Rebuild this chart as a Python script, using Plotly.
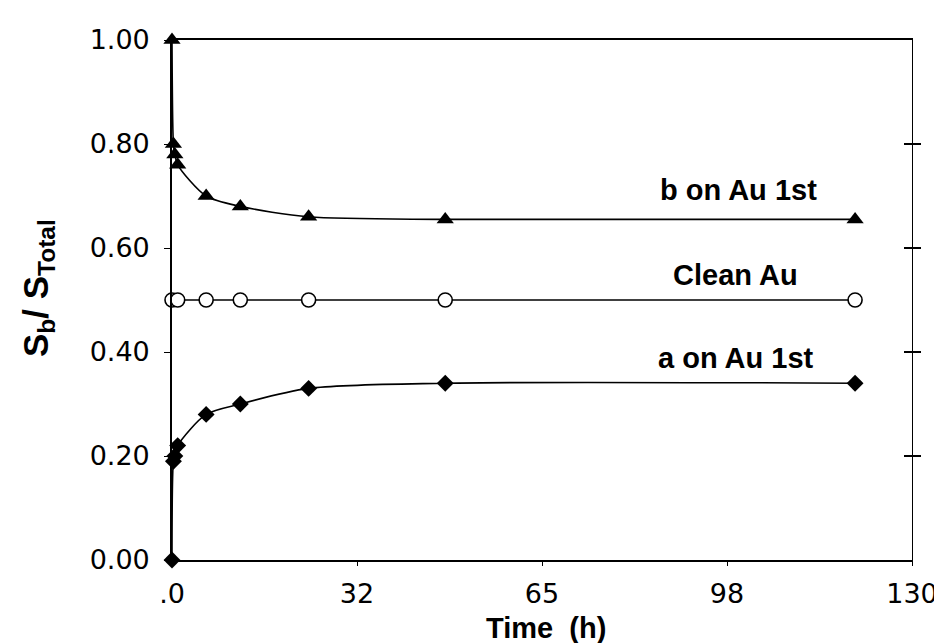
import plotly.graph_objects as go

# ---- data ----
time_b = [0, 0.25, 0.5, 1, 6, 12, 24, 48, 120]
b_on_au = [1.00, 0.80, 0.78, 0.76, 0.70, 0.68, 0.66, 0.655, 0.655]

time_clean = [0, 1, 6, 12, 24, 48, 120]
clean_au = [0.50, 0.50, 0.50, 0.50, 0.50, 0.50, 0.50]

time_a = [0, 0.25, 0.5, 1, 6, 12, 24, 48, 120]
a_on_au = [0.00, 0.19, 0.20, 0.22, 0.28, 0.30, 0.33, 0.34, 0.34]

x_tickvals = [0, 32.5, 65, 97.5, 130]
x_ticktext = [".0", "32", "65", "98", "130"]
y_tickvals = [0, 0.2, 0.4, 0.6, 0.8, 1.0]
y_ticktext = ["0.00", "0.20", "0.40", "0.60", "0.80", "1.00"]
right_tickvals = [0.2, 0.4, 0.6, 0.8]

labels = ["b on Au 1st", "Clean Au", "a on Au 1st"]
label_x = [99.6, 99.0, 99.0]
label_y = [0.712, 0.548, 0.388]

TXT = "Liberation Sans, Arial, sans-serif"
TICKF = "DejaVu Sans, sans-serif"

fig = go.Figure()

fig.add_trace(go.Scatter(
    x=time_b, y=b_on_au, mode="lines+markers",
    line=dict(color="black", width=1.6, shape="spline", smoothing=0.8),
    marker=dict(symbol="triangle-up", size=15, color="black"),
    cliponaxis=False, showlegend=False))

fig.add_trace(go.Scatter(
    x=time_clean, y=clean_au, mode="lines+markers",
    line=dict(color="black", width=1.3),
    marker=dict(symbol="circle", size=14, color="white",
                line=dict(color="black", width=1.6)),
    cliponaxis=False, showlegend=False))

fig.add_trace(go.Scatter(
    x=time_a, y=a_on_au, mode="lines+markers",
    line=dict(color="black", width=1.6, shape="spline", smoothing=0.8),
    marker=dict(symbol="diamond", size=13, color="black"),
    cliponaxis=False, showlegend=False))

# invisible helpers so the right-hand axes get drawn
for ax in ["y2", "y3"]:
    fig.add_trace(go.Scatter(x=time_a[:1], y=a_on_au[:1], yaxis=ax,
                             mode="markers", marker=dict(opacity=0),
                             hoverinfo="skip", showlegend=False))

for txt, lx, ly in zip(labels, label_x, label_y):
    fig.add_annotation(x=lx, y=ly, xref="x", yref="y", text="<b>" + txt + "</b>",
                       showarrow=False, font=dict(family=TXT, size=29, color="black"),
                       xanchor="center", yanchor="middle")

fig.add_annotation(xref="paper", yref="paper", x=-0.1817, y=0.522,
                   text="<b>S<sub>b</sub>/ S<sub>Total</sub></b>", textangle=-90,
                   showarrow=False, font=dict(family=TXT, size=35, color="black"),
                   xanchor="center", yanchor="middle")
fig.add_annotation(xref="paper", yref="paper", x=0.505, y=-0.131,
                   text="<b>Time  (h)</b>", showarrow=False,
                   font=dict(family=TXT, size=29, color="black"),
                   xanchor="center", yanchor="middle")

fig.update_layout(
    width=942, height=643,
    margin=dict(l=164, r=35, t=32, b=91),
    paper_bgcolor="white", plot_bgcolor="white",
    xaxis=dict(range=[0, 130], tickvals=x_tickvals, ticktext=x_ticktext,
               showline=True, linecolor="black", linewidth=1.6, mirror=True,
               ticks="outside", ticklen=4, tickcolor="black",
               ticklabelstandoff=5,
               showgrid=False, zeroline=False,
               tickfont=dict(family=TICKF, size=27, color="black")),
    yaxis=dict(range=[0, 1], tickvals=y_tickvals, ticktext=y_ticktext,
               showline=True, linecolor="black", linewidth=1.6,
               ticks="outside", ticklen=6, tickcolor="black",
               ticklabelstandoff=9,
               showgrid=False, zeroline=False,
               tickfont=dict(family=TICKF, size=27, color="black")),
    yaxis2=dict(range=[0, 1], overlaying="y", side="right", anchor="x",
                tickvals=right_tickvals, showticklabels=False,
                showline=True, linecolor="black", linewidth=1,
                ticks="outside", ticklen=8, tickcolor="black", tickwidth=1.5,
                showgrid=False, zeroline=False),
    yaxis3=dict(range=[0, 1], overlaying="y", side="right", anchor="x",
                tickvals=right_tickvals, showticklabels=False,
                showline=False,
                ticks="inside", ticklen=8, tickcolor="black", tickwidth=1.5,
                showgrid=False, zeroline=False),
)

fig.write_html("out.html")
